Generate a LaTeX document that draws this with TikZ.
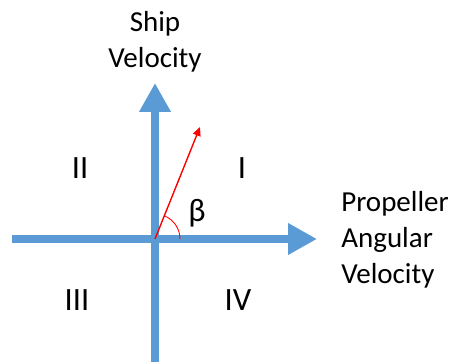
\documentclass[tikz,border=0pt]{standalone}
\usepackage{fontspec}
\setmainfont{Carlito}
\usetikzlibrary{arrows.meta}
\definecolor{axisblue}{RGB}{91,155,213}

\begin{document}
\begin{tikzpicture}[
    x=0.02cm,y=0.02cm,
    axis/.style={axisblue,line width=4.5pt,-{Triangle[length=16.5pt,width=17pt]}},
    vec/.style={red,line width=0.8pt,-{Triangle[length=5pt,width=4.5pt]}},
    axislabel/.style={align=center,font=\fontsize{16.5}{20.5}\selectfont,inner sep=0pt},
    quadrant/.style={font=\fontsize{18.5}{20}\selectfont,inner sep=0pt},
    ]
    \useasboundingbox (0,0) rectangle (454,362);
    \coordinate (O) at (155,123);
    \coordinate (xneg) at (12,123);
    \coordinate (xpos) at (317,123);
    \coordinate (yneg) at (155,0);
    \coordinate (ypos) at (155,279);
    \coordinate (tip) at (200,235);
    \draw[axis,-] (xneg) -- (O);
    \draw[axis] (O) -- (xpos);
    \draw[axis,-] (yneg) -- (O);
    \draw[axis] (O) -- (ypos);
    \draw[vec] (O) -- (tip);
    \draw[red,line width=0.5pt] ([shift={(25,0)}]O) arc[start angle=0,end angle=68,radius=25];
    \node[axislabel] (ship) at (155,320) {Ship\\Velocity};
    \node[axislabel,anchor=west,align=left] (prop) at (341,122) {Propeller\\Angular\\Velocity};
    \node[quadrant] (beta) at (197,149) {β};
    \node[quadrant] (q1) at (242,194) {I};
    \node[quadrant] (q2) at (80,194) {II};
    \node[quadrant] (q3) at (77,62) {III};
    \node[quadrant] (q4) at (238,62) {IV};
\end{tikzpicture}
\end{document}
